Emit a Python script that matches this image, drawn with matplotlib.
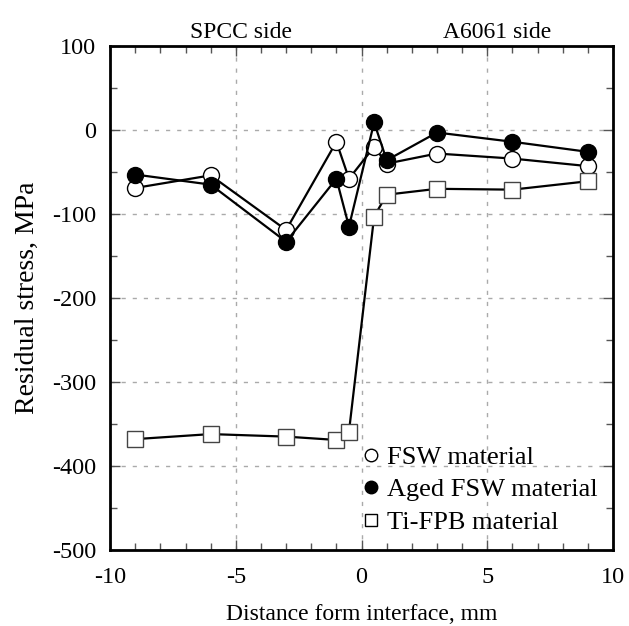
import matplotlib
matplotlib.use("Agg")
import matplotlib.pyplot as plt
from matplotlib.lines import Line2D
from matplotlib.ticker import MultipleLocator

plt.rcParams['font.family'] = ['Liberation Serif', 'DejaVu Serif']
plt.rcParams['axes.unicode_minus'] = False

# 距离 (mm)
x_pos = [-9, -6, -3, -1, -0.5, 0.5, 1, 3, 6, 9]
# 残余应力 (MPa)
fsw = [-69, -54, -119, -14, -58, -20, -40, -28, -34, -43]
aged_fsw = [-53, -65, -133, -58, -115, 9, -36, -3, -14, -26]
ti_fpb = [-368, -362, -365, -369, -359, -103, -77, -70, -71, -61]

labels = ["FSW material", "Aged FSW material", "Ti-FPB material"]

fig = plt.figure(figsize=(6.29, 6.26), dpi=100)
ax = fig.add_axes([0.175, 0.1214, 0.7996, 0.8051])

ms = 11.5
ax.plot(x_pos, fsw, color='black', lw=1.6, marker='o', ms=ms,
        mfc='white', mec='black', mew=1.0, zorder=3)
ax.plot(x_pos, aged_fsw, color='black', lw=1.6, marker='o', ms=ms,
        mfc='black', mec='black', mew=1.0, zorder=4)
ax.plot(x_pos, ti_fpb, color='black', lw=1.6, marker='s', ms=ms,
        mfc='white', mec='#444444', mew=1.0, zorder=5)

ax.set_xlim(-10, 10)
ax.set_ylim(-500, 100)
ax.xaxis.set_major_locator(MultipleLocator(5))
ax.xaxis.set_minor_locator(MultipleLocator(1))
ax.yaxis.set_major_locator(MultipleLocator(100))
ax.yaxis.set_minor_locator(MultipleLocator(50))
ax.tick_params(which='both', direction='in', top=True, right=True,
               labelsize=17.5, color='#555555')
ax.tick_params(which='major', length=7, width=1)
ax.tick_params(which='minor', length=5, width=1)
ax.tick_params(axis='x', pad=12)
ax.tick_params(axis='y', pad=10)
ax.grid(True, which='major', color='#aaaaaa', lw=1.0, ls=(0, (3, 5)))
for s in ax.spines.values():
    s.set_linewidth(2)

ax.set_xlabel("Distance form interface, mm", fontsize=17, labelpad=12)
ax.set_ylabel("Residual stress, MPa", fontsize=20, labelpad=9)

ax.text(-4.8, 103, "SPCC side", fontsize=17, ha='center', va='bottom')
ax.text(5.4, 103, "A6061 side", fontsize=17, ha='center', va='bottom')

handles = [
    Line2D([], [], ls='none', marker='o', ms=9, mfc='white', mec='black'),
    Line2D([], [], ls='none', marker='o', ms=9, mfc='black', mec='black'),
    Line2D([], [], ls='none', marker='s', ms=8, mfc='white', mec='black'),
]
ax.legend(handles, labels, loc='lower right', bbox_to_anchor=(1.0, 0.0),
          frameon=False, fontsize=19, handlelength=0.6, handletextpad=0.3,
          labelspacing=0.35, borderaxespad=0.2)

fig.savefig("out.png", dpi=100)
